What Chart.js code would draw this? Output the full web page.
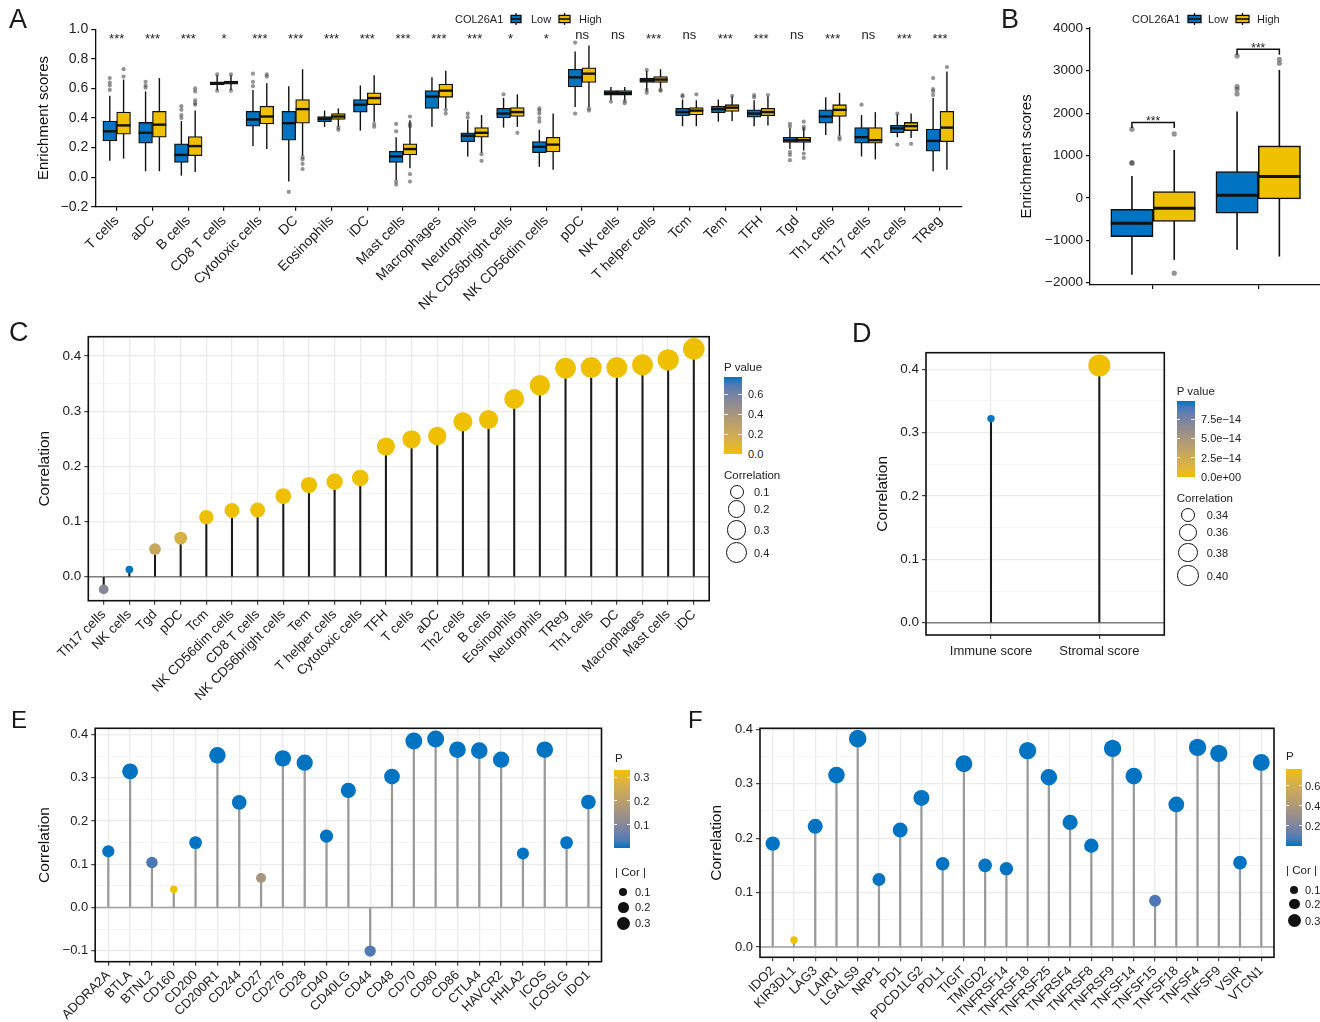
<!DOCTYPE html>
<html>
<head>
<meta charset="utf-8">
<script src="https://cdn.jsdelivr.net/npm/chart.js@4.4.1/dist/chart.umd.min.js"></script>
<style>
html, body { margin: 0; padding: 0; background: #fff; overflow: hidden; }
#fig { position: relative; width: 1320px; height: 1022px; font-family: 'Liberation Sans', Arial, sans-serif; color: #222; }
canvas { position: absolute; }
.tag { position: absolute; line-height: 1; color: #1a1a1a; }
.lg { position: absolute; line-height: 1; white-space: nowrap; transform: translateY(-50%); z-index: 2; }
.cbar, .ctick, .dot, svg { position: absolute; z-index: 2; }
.ctick { height: 1px; background: rgba(255,255,255,0.85); z-index: 3; }
.dot { border-radius: 50%; box-sizing: border-box; }
</style>
</head>
<body>
<div id="fig">
  <canvas id="chartA" width="985" height="320" style="left:0;top:0"></canvas>
  <canvas id="chartB" width="340" height="300" style="left:990px;top:0"></canvas>
  <canvas id="chartC" width="720" height="390" style="left:0;top:320px"></canvas>
  <canvas id="chartD" width="330" height="350" style="left:850px;top:320px"></canvas>
  <canvas id="chartE" width="610" height="322" style="left:0;top:700px"></canvas>
  <canvas id="chartF" width="600" height="322" style="left:690px;top:700px"></canvas>
</div>
<script>
// ---------- panel A: enrichment scores by COL26A1 group ----------
const cellTypes = ['T cells', 'aDC', 'B cells', 'CD8 T cells', 'Cytotoxic cells', 'DC', 'Eosinophils', 'iDC',
  'Mast cells', 'Macrophages', 'Neutrophils', 'NK CD56bright cells', 'NK CD56dim cells', 'pDC', 'NK cells',
  'T helper cells', 'Tcm', 'Tem', 'TFH', 'Tgd', 'Th1 cells', 'Th17 cells', 'Th2 cells', 'TReg'];
const sigLabels = ['***', '***', '***', '*', '***', '***', '***', '***', '***', '***', '***', '*', '*',
  'ns', 'ns', '***', 'ns', '***', '***', 'ns', '***', 'ns', '***', '***'];
// [lower whisker, Q1, median, Q3, upper whisker]
const lowStats = [
  [0.11, 0.245, 0.31, 0.38, 0.55], [0.04, 0.23, 0.30, 0.37, 0.58], [0.01, 0.10, 0.15, 0.225, 0.38],
  [0.59, 0.625, 0.635, 0.645, 0.69], [0.21, 0.345, 0.39, 0.445, 0.59], [-0.03, 0.25, 0.365, 0.445, 0.615],
  [0.34, 0.375, 0.395, 0.41, 0.45], [0.315, 0.44, 0.49, 0.525, 0.62], [-0.02, 0.10, 0.14, 0.175, 0.27],
  [0.34, 0.465, 0.545, 0.585, 0.675], [0.14, 0.24, 0.28, 0.30, 0.39], [0.335, 0.40, 0.43, 0.465, 0.535],
  [0.07, 0.165, 0.205, 0.24, 0.32], [0.475, 0.61, 0.675, 0.73, 0.85], [0.52, 0.555, 0.57, 0.585, 0.61],
  [0.585, 0.64, 0.655, 0.67, 0.72], [0.345, 0.415, 0.44, 0.465, 0.525], [0.375, 0.435, 0.46, 0.48, 0.525],
  [0.345, 0.405, 0.43, 0.455, 0.52], [0.19, 0.235, 0.25, 0.27, 0.33], [0.285, 0.365, 0.41, 0.455, 0.54],
  [0.14, 0.23, 0.27, 0.335, 0.42], [0.27, 0.30, 0.33, 0.35, 0.425], [0.04, 0.175, 0.245, 0.325, 0.535]
];
const highStats = [
  [0.125, 0.29, 0.35, 0.44, 0.66], [0.04, 0.27, 0.355, 0.445, 0.67], [0.035, 0.145, 0.21, 0.275, 0.45],
  [0.59, 0.628, 0.64, 0.65, 0.69], [0.19, 0.36, 0.41, 0.48, 0.635], [0.145, 0.365, 0.46, 0.525, 0.73],
  [0.34, 0.39, 0.41, 0.43, 0.465], [0.375, 0.49, 0.535, 0.57, 0.69], [0.06, 0.15, 0.19, 0.225, 0.385],
  [0.465, 0.54, 0.585, 0.63, 0.72], [0.165, 0.27, 0.30, 0.335, 0.42], [0.34, 0.41, 0.44, 0.47, 0.56],
  [0.05, 0.17, 0.22, 0.27, 0.43], [0.475, 0.64, 0.70, 0.74, 0.89], [0.52, 0.555, 0.57, 0.585, 0.61],
  [0.60, 0.64, 0.66, 0.68, 0.73], [0.345, 0.42, 0.45, 0.47, 0.52], [0.38, 0.445, 0.47, 0.49, 0.545],
  [0.35, 0.415, 0.44, 0.465, 0.545], [0.18, 0.235, 0.25, 0.27, 0.335], [0.28, 0.41, 0.455, 0.49, 0.57],
  [0.12, 0.23, 0.25, 0.335, 0.44], [0.265, 0.315, 0.345, 0.37, 0.43], [0.05, 0.24, 0.335, 0.445, 0.715]
];
const lowOutliers = [
  [0.59, 0.62, 0.64, 0.67], [0.605, 0.62, 0.645], [0.40, 0.42, 0.455, 0.48], [0.585, 0.695],
  [0.615, 0.645, 0.70], [-0.10], [], [], [0.31, 0.36, -0.03, -0.05], [], [0.405, 0.43], [0.56],
  [0.375, 0.40, 0.43, 0.45, 0.465], [0.43, 0.91], [0.51], [0.57, 0.59, 0.725], [0.545, 0.555], [],
  [0.54, 0.555], [0.34, 0.36, 0.17, 0.15, 0.115], [], [0.49], [0.43, 0.22], [0.555, 0.58, 0.595, 0.67]
];
const highOutliers = [
  [0.68, 0.73], [], [0.49, 0.50, 0.52, 0.58, 0.60], [0.585, 0.695], [0.68, 0.695], [0.135, 0.12, 0.09, 0.055],
  [0.32, 0.335], [0.36, 0.34], [0.41, 0.36, 0.345, 0.02, -0.03], [0.455, 0.43], [0.155, 0.11], [0.30],
  [], [0.465, 0.45], [0.515, 0.50], [0.585, 0.59], [0.56], [0.55], [0.555], [0.34, 0.325, 0.375, 0.16, 0.13],
  [0.27, 0.255], [], [0.225], [0.745]
];
const aYTicks = [-0.2, 0, 0.2, 0.4, 0.6, 0.8, 1.0];

// ---------- panel B: immune / stromal scores ----------
const scoreGroups = ['Immune score', 'Stromal score'];
const bLowStats = [[-1816, -912, -597, -267, 519], [-1226, -362, 63, 621, 2036]];
const bHighStats = [[-1462, -558, -244, 149, 1132], [-1384, -24, 503, 1226, 3019]];
const bLowOutliers = [[818, 833, 1620], [2453, 2563, 2626, 3349]];
const bHighOutliers = [[1509, -1777], [3176, 3270]];
const bBracketY = [1777, 3506];
const bYTicks = [-2000, -1000, 0, 1000, 2000, 3000, 4000];

// ---------- panel C: correlation with immune cells ----------
const cNames = ['Th17 cells', 'NK cells', 'Tgd', 'pDC', 'Tcm', 'NK CD56dim cells', 'CD8 T cells', 'NK CD56bright cells',
  'Tem', 'T helper cells', 'Cytotoxic cells', 'TFH', 'T cells', 'aDC', 'Th2 cells', 'B cells', 'Eosinophils',
  'Neutrophils', 'TReg', 'Th1 cells', 'DC', 'Macrophages', 'Mast cells', 'iDC'];
const cCor = [-0.023, 0.013, 0.050, 0.070, 0.108, 0.120, 0.121, 0.146, 0.166, 0.172, 0.179, 0.236, 0.249, 0.255,
  0.281, 0.285, 0.322, 0.347, 0.378, 0.379, 0.379, 0.384, 0.393, 0.413];
const cP = [0.54, 0.773, 0.23, 0.14, 0, 0, 0, 0, 0, 0, 0, 0, 0, 0, 0, 0, 0, 0, 0, 0, 0, 0, 0, 0];
const cYTicks = [0, 0.1, 0.2, 0.3, 0.4];
const cPTicks = [0, 0.2, 0.4, 0.6];
const cSizeTicks = [0.1, 0.2, 0.3, 0.4];

// ---------- panel D: immune / stromal score correlation ----------
const dNames = ['Immune score', 'Stromal score'];
const dCor = [0.322, 0.406];
const dP = [9.86e-14, 0];
const dYTicks = [0, 0.1, 0.2, 0.3, 0.4];
const dPTicks = [0, 2.5e-14, 5e-14, 7.5e-14];
const dSizeTicks = [0.34, 0.36, 0.38, 0.40];

// ---------- panel E: immune checkpoints (1) ----------
const eNames = ['ADORA2A', 'BTLA', 'BTNL2', 'CD160', 'CD200', 'CD200R1', 'CD244', 'CD27', 'CD276', 'CD28', 'CD40',
  'CD40LG', 'CD44', 'CD48', 'CD70', 'CD80', 'CD86', 'CTLA4', 'HAVCR2', 'HHLA2', 'ICOS', 'ICOSLG', 'IDO1'];
const eCor = [0.130, 0.315, 0.104, 0.042, 0.150, 0.352, 0.243, 0.068, 0.345, 0.335, 0.165, 0.271, -0.101, 0.303,
  0.385, 0.390, 0.365, 0.363, 0.342, 0.125, 0.365, 0.150, 0.244];
const eP = [0, 0, 0.03, 0.331, 0, 0, 0, 0.16, 0, 0, 0, 0, 0.035, 0, 0, 0, 0, 0, 0, 0, 0, 0, 0];
const eYTicks = [-0.1, 0, 0.1, 0.2, 0.3, 0.4];
const ePTicks = [0.1, 0.2, 0.3];
const eSizeTicks = [0.1, 0.2, 0.3];

// ---------- panel F: immune checkpoints (2) ----------
const fNames = ['IDO2', 'KIR3DL1', 'LAG3', 'LAIR1', 'LGALS9', 'NRP1', 'PD1', 'PDCD1LG2', 'PDL1', 'TIGIT', 'TMIGD2',
  'TNFRSF14', 'TNFRSF18', 'TNFRSF25', 'TNFRSF4', 'TNFRSF8', 'TNFRSF9', 'TNFSF14', 'TNFSF15', 'TNFSF18', 'TNFSF4',
  'TNFSF9', 'VSIR', 'VTCN1'];
const fCor = [0.190, 0.013, 0.222, 0.316, 0.383, 0.124, 0.215, 0.274, 0.153, 0.337, 0.150, 0.144, 0.361, 0.312,
  0.229, 0.186, 0.365, 0.314, 0.085, 0.262, 0.367, 0.356, 0.155, 0.339];
const fP = [0, 0.767, 0, 0, 0, 0, 0, 0, 0, 0, 0, 0, 0, 0, 0, 0, 0, 0, 0.07, 0, 0, 0, 0, 0];
const fYTicks = [0, 0.1, 0.2, 0.3, 0.4];
const fPTicks = [0.2, 0.4, 0.6];
const fSizeTicks = [0.1, 0.2, 0.3];

// ---------- shared setup ----------
const FONT = "'Liberation Sans', Arial, sans-serif";
Chart.defaults.font.family = FONT;
Chart.defaults.color = '#222';
Chart.defaults.animation = false;
Chart.defaults.events = [];
Chart.defaults.plugins.legend.display = false;
Chart.defaults.plugins.tooltip.enabled = false;

const BLUE = '#0073C2', YELLOW = '#EFC000';
const minus = s => String(s).replace('-', '\u2212');

// colour scale interpolated in Lab, like ggplot's gradient
function srgbToLin(c) { c /= 255; return c <= 0.04045 ? c / 12.92 : Math.pow((c + 0.055) / 1.055, 2.4); }
function linToSrgb(c) {
  c = c <= 0.0031308 ? 12.92 * c : 1.055 * Math.pow(c, 1 / 2.4) - 0.055;
  return Math.round(Math.min(1, Math.max(0, c)) * 255);
}
function toLab(hex) {
  const n = parseInt(hex.slice(1), 16);
  const [r, g, b] = [(n >> 16) & 255, (n >> 8) & 255, n & 255].map(srgbToLin);
  const x = (0.4124 * r + 0.3576 * g + 0.1805 * b) / 0.95047;
  const y = 0.2126 * r + 0.7152 * g + 0.0722 * b;
  const z = (0.0193 * r + 0.1192 * g + 0.9505 * b) / 1.08883;
  const f = t => t > 0.008856 ? Math.cbrt(t) : 7.787 * t + 16 / 116;
  return [116 * f(y) - 16, 500 * (f(x) - f(y)), 200 * (f(y) - f(z))];
}
function fromLab([L, a, bb]) {
  const fy = (L + 16) / 116, fx = fy + a / 500, fz = fy - bb / 200;
  const inv = t => t * t * t > 0.008856 ? t * t * t : (t - 16 / 116) / 7.787;
  const x = inv(fx) * 0.95047, y = inv(fy), z = inv(fz) * 1.08883;
  const r = 3.2406 * x - 1.5372 * y - 0.4986 * z;
  const g = -0.9689 * x + 1.8758 * y + 0.0415 * z;
  const b = 0.0557 * x - 0.2040 * y + 1.0570 * z;
  return `rgb(${linToSrgb(r)},${linToSrgb(g)},${linToSrgb(b)})`;
}
function labMix(c0, c1, t) {
  const a = toLab(c0), b = toLab(c1);
  return fromLab(a.map((v, k) => v + (b[k] - v) * t));
}

// whiskers, medians and outliers drawn on top of the floating-bar boxes
function boxDecor(statsList, outlierList, medianWidth, whiskerWidth, outRadius) {
  return {
    id: 'boxDecor',
    beforeDatasetsDraw(chart) {
      const { ctx, scales: { y } } = chart;
      ctx.save();
      ctx.strokeStyle = '#111';
      ctx.lineWidth = whiskerWidth;
      statsList.forEach((stats, g) => {
        chart.getDatasetMeta(g).data.forEach((bar, i) => {
          ctx.beginPath();
          ctx.moveTo(bar.x, y.getPixelForValue(stats[i][0]));
          ctx.lineTo(bar.x, y.getPixelForValue(stats[i][4]));
          ctx.stroke();
        });
      });
      ctx.restore();
    },
    afterDatasetsDraw(chart) {
      const { ctx, scales: { y } } = chart;
      ctx.save();
      statsList.forEach((stats, g) => {
        chart.getDatasetMeta(g).data.forEach((bar, i) => {
          const ym = y.getPixelForValue(stats[i][2]);
          ctx.strokeStyle = '#111';
          ctx.lineWidth = medianWidth;
          ctx.beginPath();
          ctx.moveTo(bar.x - bar.width / 2, ym);
          ctx.lineTo(bar.x + bar.width / 2, ym);
          ctx.stroke();
          ctx.fillStyle = 'rgba(60,60,60,0.55)';
          outlierList[g][i].forEach(v => {
            ctx.beginPath();
            ctx.arc(bar.x, y.getPixelForValue(v), outRadius, 0, Math.PI * 2);
            ctx.fill();
          });
        });
      });
      ctx.restore();
    }
  };
}

function makeBoxChart(id, o) {
  const axisGrid = { display: true, offset: false, drawOnChartArea: false, color: '#111', lineWidth: 1.2, tickLength: 4 };
  const axisBorder = { display: true, color: '#111', width: 1.3 };
  return new Chart(document.getElementById(id), {
    type: 'bar',
    data: {
      datasets: o.stats.map((st, g) => ({
        data: st.map((s, i) => ({ x: i, y: [s[1], s[3]] })),
        backgroundColor: [BLUE, YELLOW][g],
        borderColor: '#111',
        borderWidth: o.boxLine,
        borderSkipped: false,
        barThickness: o.boxWidth
      }))
    },
    options: {
      responsive: false,
      layout: { padding: o.pad },
      scales: {
        x: {
          type: 'linear', min: -0.6, max: o.names.length - 0.4, offset: false,
          afterBuildTicks: s => { s.ticks = o.names.map((n, i) => ({ value: i })); },
          afterFit: s => { s.height = o.xHeight; },
          grid: axisGrid, border: axisBorder,
          ticks: {
            autoSkip: false, maxRotation: 45, minRotation: 45, padding: 2, color: '#222',
            font: { size: 14 }, callback: v => o.showNames ? o.names[v] : ''
          }
        },
        y: {
          min: o.yMin, max: o.yMax,
          afterBuildTicks: s => { s.ticks = o.yTicks.map(v => ({ value: v })); },
          afterFit: s => { s.width = o.yWidth; },
          grid: axisGrid, border: axisBorder,
          ticks: { padding: 3, color: '#222', font: { size: o.yFont }, callback: o.yFmt },
          title: { display: true, text: 'Enrichment scores', color: '#111', font: { size: 15 }, padding: 0 }
        }
      }
    },
    plugins: [boxDecor(o.stats, o.outliers, o.medianWidth, o.whiskerWidth, o.outRadius)].concat(o.extra || [])
  });
}

// significance labels above each pair in panel A
const sigPlugin = {
  id: 'sig',
  afterDatasetsDraw(chart) {
    const { ctx, scales: { x, y } } = chart;
    ctx.save();
    ctx.fillStyle = '#222';
    ctx.textAlign = 'center';
    ctx.textBaseline = 'alphabetic';
    ctx.font = `13px ${FONT}`;
    const base = y.getPixelForValue(0.95);
    sigLabels.forEach((s, i) => ctx.fillText(s, x.getPixelForValue(i), base + (s === 'ns' ? 2.5 : 6.1)));
    ctx.restore();
  }
};

// brackets for panel B
const bracketPlugin = {
  id: 'brackets',
  afterDatasetsDraw(chart) {
    const { ctx, scales: { y } } = chart;
    const low = chart.getDatasetMeta(0).data, high = chart.getDatasetMeta(1).data;
    ctx.save();
    ctx.strokeStyle = '#111';
    ctx.lineWidth = 1.5;
    ctx.fillStyle = '#222';
    ctx.font = `12px ${FONT}`;
    ctx.textAlign = 'center';
    ctx.textBaseline = 'alphabetic';
    bBracketY.forEach((v, i) => {
      const yy = y.getPixelForValue(v), x1 = low[i].x, x2 = high[i].x;
      ctx.beginPath();
      ctx.moveTo(x1, yy + 5.5);
      ctx.lineTo(x1, yy);
      ctx.lineTo(x2, yy);
      ctx.lineTo(x2, yy + 5.5);
      ctx.stroke();
      ctx.fillText('***', (x1 + x2) / 2, yy + 2.5);
    });
    ctx.restore();
  }
};

makeBoxChart('chartA', {
  names: cellTypes, showNames: true, stats: [lowStats, highStats], outliers: [lowOutliers, highOutliers],
  yMin: -0.2, yMax: 1.0, yTicks: aYTicks, yFmt: v => minus(v.toFixed(1)), yFont: 14,
  pad: { left: 35, top: 29.3, right: 23.5, bottom: 0 }, yWidth: 60.2, xHeight: 113.3,
  boxWidth: 13.8, boxLine: 1.3, medianWidth: 2.4, whiskerWidth: 1.4, outRadius: 2.1, extra: [sigPlugin]
});

makeBoxChart('chartB', {
  names: scoreGroups, showNames: false, stats: [bLowStats, bHighStats], outliers: [bLowOutliers, bHighOutliers],
  yMin: -2055, yMax: 4010, yTicks: bYTicks, yFmt: v => minus(v), yFont: 13.5,
  pad: { left: 28, top: 27.9, right: 8.7, bottom: 0 }, yWidth: 72, xHeight: 15,
  boxWidth: 42.3, boxLine: 1.6, medianWidth: 3, whiskerWidth: 1.6, outRadius: 2.6, extra: [bracketPlugin]
});

// ---------- lollipop panels ----------
function withMinor(ticks) {
  const out = [];
  ticks.forEach((v, i) => {
    out.push({ value: v });
    if (i < ticks.length - 1) out.push({ value: (v + ticks[i + 1]) / 2, minor: true });
  });
  return out;
}

function panelPlugin(zeroColor, zeroWidth) {
  return {
    id: 'panel',
    beforeDatasetsDraw(chart) {
      const { ctx, chartArea: a, scales: { y } } = chart;
      const y0 = y.getPixelForValue(0);
      ctx.save();
      ctx.strokeStyle = zeroColor;
      ctx.lineWidth = zeroWidth;
      ctx.beginPath();
      ctx.moveTo(a.left, y0);
      ctx.lineTo(a.right, y0);
      ctx.stroke();
      ctx.restore();
    },
    afterDatasetsDraw(chart) {
      const { ctx, chartArea: a } = chart;
      ctx.save();
      ctx.strokeStyle = '#111';
      ctx.lineWidth = 1.6;
      ctx.strokeRect(a.left, a.top, a.right - a.left, a.bottom - a.top);
      ctx.restore();
    }
  };
}

function makeLollipop(id, o) {
  const absCor = o.cor.map(Math.abs);
  const lo = Math.min(...absCor), hi = Math.max(...absCor);
  const size = v => o.r0 + (o.r1 - o.r0) * Math.sqrt(Math.max(0, (Math.abs(v) - lo) / (hi - lo)));
  const pMax = Math.max(...o.p);
  const yTicks = withMinor(o.yTicks);
  const isMinor = c => c.tick && c.tick.minor;
  new Chart(document.getElementById(id), {
    type: 'bar',
    data: {
      datasets: [
        {
          type: 'scatter', order: 0, clip: false,
          data: o.cor.map((v, i) => ({ x: i, y: v })),
          pointRadius: o.cor.map(size),
          pointBackgroundColor: o.p.map(p => labMix(o.c0, o.c1, p / pMax)),
          pointBorderWidth: 0
        },
        {
          type: 'bar', order: 1,
          data: o.cor.map((v, i) => ({ x: i, y: [0, v] })),
          backgroundColor: o.stem, borderWidth: 0, barThickness: o.stemWidth
        }
      ]
    },
    options: {
      responsive: false,
      layout: { padding: o.pad },
      scales: {
        x: {
          type: 'linear', min: -0.6, max: o.names.length - 0.4, offset: false,
          afterBuildTicks: s => { s.ticks = o.names.map((n, i) => ({ value: i })); },
          afterFit: s => { s.height = o.xHeight; },
          grid: { offset: false, color: '#EBEBEB', lineWidth: 1.3, tickColor: '#333', tickWidth: 1.1, tickLength: 4 },
          border: { display: false },
          ticks: {
            autoSkip: false, maxRotation: o.rot, minRotation: o.rot, padding: o.xPad, color: '#222',
            font: { size: o.xFont }, callback: v => o.names[v]
          }
        },
        y: {
          min: o.yMin, max: o.yMax,
          afterBuildTicks: s => { s.ticks = yTicks.map(t => Object.assign({}, t)); },
          afterFit: s => { s.width = o.yWidth; },
          grid: {
            color: c => isMinor(c) ? '#F3F3F3' : '#EBEBEB',
            lineWidth: c => isMinor(c) ? 0.8 : 1.3,
            tickColor: c => isMinor(c) ? 'rgba(0,0,0,0)' : '#333',
            tickWidth: 1.1, tickLength: 4
          },
          border: { display: false },
          ticks: {
            padding: 3, color: '#222', font: { size: o.yFont },
            callback: (v, i, t) => t[i].minor ? '' : minus(v.toFixed(1))
          },
          title: { display: true, text: 'Correlation', color: '#111', font: { size: 15.5 }, padding: 0 }
        }
      }
    },
    plugins: [panelPlugin(o.zeroColor, o.zeroWidth)]
  });
  return { size, pMax };
}

const scC = makeLollipop('chartC', {
  names: cNames, cor: cCor, p: cP, yTicks: cYTicks, yMin: -0.0435, yMax: 0.435,
  c0: YELLOW, c1: BLUE, r0: 3.8, r1: 10.8, stem: '#1a1a1a', stemWidth: 1.4, zeroColor: '#7f7f7f', zeroWidth: 1.5,
  pad: { left: 35, top: 16.7, right: 7.7, bottom: 0 }, yWidth: 53.3, xHeight: 109.3,
  rot: 45, xPad: 2, xFont: 13.5, yFont: 13.5
});
const scD = makeLollipop('chartD', {
  names: dNames, cor: dCor, p: dP, yTicks: dYTicks, yMin: -0.0194, yMax: 0.426,
  c0: YELLOW, c1: BLUE, r0: 3.7, r1: 11, stem: '#1a1a1a', stemWidth: 1.4, zeroColor: '#7f7f7f', zeroWidth: 1.5,
  pad: { left: 23.3, top: 32.7, right: 15.7, bottom: 0 }, yWidth: 52.7, xHeight: 35,
  rot: 0, xPad: 5, xFont: 13, yFont: 13.5
});
const scE = makeLollipop('chartE', {
  names: eNames, cor: eCor, p: eP, yTicks: eYTicks, yMin: -0.1256, yMax: 0.4146,
  c0: BLUE, c1: YELLOW, r0: 3.7, r1: 8.5, stem: '#9a9a9a', stemWidth: 1.6, zeroColor: '#a0a0a0', zeroWidth: 1.4,
  pad: { left: 35.2, top: 28.3, right: 6.7, bottom: 0 }, yWidth: 60, xHeight: 60.3,
  rot: 45, xPad: 2, xFont: 13, yFont: 13
});
const scF = makeLollipop('chartF', {
  names: fNames, cor: fCor, p: fP, yTicks: fYTicks, yMin: -0.019, yMax: 0.402,
  c0: BLUE, c1: YELLOW, r0: 3.7, r1: 8.8, stem: '#9a9a9a', stemWidth: 1.6, zeroColor: '#a0a0a0', zeroWidth: 1.4,
  pad: { left: 17.4, top: 28.3, right: 16, bottom: 0 }, yWidth: 52.6, xHeight: 64.7,
  rot: 45, xPad: 2, xFont: 13, yFont: 13
});

// ---------- HTML legends and panel tags ----------
const fig = document.getElementById('fig');
function put(el, left, top) {
  el.style.left = left + 'px';
  el.style.top = top + 'px';
  fig.appendChild(el);
  return el;
}
function text(str, left, cy, size) {
  const d = document.createElement('div');
  d.className = 'lg';
  d.textContent = str;
  d.style.fontSize = size + 'px';
  return put(d, left, cy);
}
function tag(letter, left, top, size) {
  const d = document.createElement('div');
  d.className = 'tag';
  d.textContent = letter;
  d.style.fontSize = size + 'px';
  put(d, left, top);
}
function boxKey(left, top, w, h, color) {
  const svg = document.createElementNS('http://www.w3.org/2000/svg', 'svg');
  svg.setAttribute('width', w + 2);
  svg.setAttribute('height', h);
  svg.innerHTML = `<line x1="${w / 2 + 1}" y1="0" x2="${w / 2 + 1}" y2="${h}" stroke="#111" stroke-width="1.3"/>` +
    `<rect x="1" y="${h * 0.2}" width="${w}" height="${h * 0.6}" fill="${color}" stroke="#111" stroke-width="1.3"/>` +
    `<line x1="1" y1="${h / 2}" x2="${w + 1}" y2="${h / 2}" stroke="#111" stroke-width="1.6"/>`;
  put(svg, left, top);
}
function colorBar(left, top, w, h, c0, c1, pMax, ticks, fmt, labelLeft) {
  const bar = document.createElement('div');
  bar.className = 'cbar';
  const stops = [];
  for (let k = 0; k <= 10; k++) stops.push(labMix(c0, c1, k / 10) + ' ' + k * 10 + '%');
  bar.style.background = 'linear-gradient(to top,' + stops.join(',') + ')';
  bar.style.width = w + 'px';
  bar.style.height = h + 'px';
  put(bar, left, top);
  ticks.forEach(v => {
    const y = top + h * (1 - v / pMax);
    [left, left + w - w / 5].forEach(tx => {
      const t = document.createElement('div');
      t.className = 'ctick';
      t.style.width = (w / 5) + 'px';
      put(t, tx, y - 0.5);
    });
    text(fmt(v), labelLeft, y, 11);
  });
}
function sizeKey(cx, cy, r, filled) {
  const d = document.createElement('div');
  d.className = 'dot';
  d.style.width = d.style.height = (2 * r) + 'px';
  d.style.background = filled ? '#111' : '#fff';
  d.style.border = filled ? 'none' : '1.3px solid #111';
  put(d, cx - r, cy - r);
}

tag('A', 9, 6, 27); tag('B', 1001, 6, 27); tag('C', 9, 319, 27);
tag('D', 852, 320, 27); tag('E', 11, 708, 24); tag('F', 688, 708, 24);

// panel A / B group legends
text('COL26A1', 455, 19, 11); boxKey(510, 13, 10, 12, BLUE); text('Low', 531, 19, 11);
boxKey(558, 13, 11, 12, YELLOW); text('High', 579, 19, 11);
text('COL26A1', 1132, 19, 11); boxKey(1187, 13, 13, 12, BLUE); text('Low', 1208, 19, 11);
boxKey(1235, 13, 13, 12, YELLOW); text('High', 1257, 19, 11);

// panel C legend
text('P value', 724, 368.3, 11.5);
colorBar(724, 376.7, 18, 77.3, YELLOW, BLUE, scC.pMax, cPTicks, v => v.toFixed(1), 748);
text('Correlation', 724, 476, 11.5);
[491.7, 509, 530, 552.7].forEach((cy, k) => {
  sizeKey(736.7, cy, scC.size(cSizeTicks[k]), false);
  text(cSizeTicks[k].toFixed(1), 754, cy, 11);
});

// panel D legend
const sci = v => v === 0 ? '0.0e+00' : (v / 1e-14).toFixed(1) + 'e\u221214';
text('P value', 1176.7, 392.3, 11.5);
colorBar(1176.7, 400.7, 18.3, 76.6, YELLOW, BLUE, scD.pMax, dPTicks, sci, 1201);
text('Correlation', 1176.7, 499, 11.5);
[515, 532.3, 552.7, 575.7].forEach((cy, k) => {
  sizeKey(1188, cy, scD.size(dSizeTicks[k]), false);
  text(dSizeTicks[k].toFixed(2), 1206.7, cy, 11);
});

// panel E legend
text('P', 615, 759.3, 11.5);
colorBar(614.3, 770, 15.7, 78.3, BLUE, YELLOW, scE.pMax, ePTicks, v => v.toFixed(1), 634);
text('| Cor |', 615, 873.3, 11.5);
[[891.7, 4.2], [907.3, 5.3], [923.3, 6.7]].forEach(([cy, r], k) => {
  sizeKey(623.3, cy, r, true);
  text(eSizeTicks[k].toFixed(1), 635, cy, 11);
});

// panel F legend
text('P', 1286, 757.3, 11.5);
colorBar(1286, 769, 15.7, 77, BLUE, YELLOW, scF.pMax, fPTicks, v => v.toFixed(1), 1305);
text('| Cor |', 1286, 870.7, 11.5);
[[890, 4.2], [904, 5.3], [920.7, 6.7]].forEach(([cy, r], k) => {
  sizeKey(1294.3, cy, r, true);
  text(fSizeTicks[k].toFixed(1), 1305, cy, 11);
});
</script>
</body>
</html>
